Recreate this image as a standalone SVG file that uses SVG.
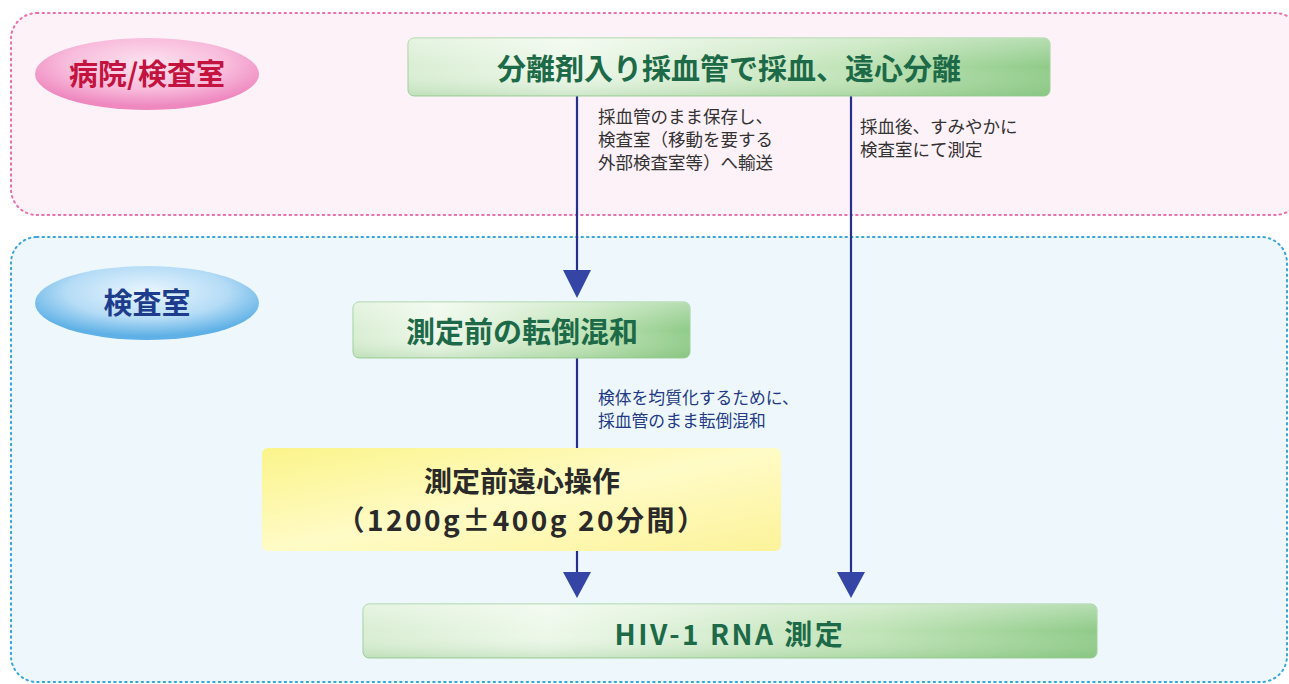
<svg xmlns="http://www.w3.org/2000/svg" width="1289" height="684" viewBox="0 0 1289 684">
<defs>
<style>
.zone-p{fill:#fdf2f8;stroke:#e870ac;stroke-width:2;stroke-dasharray:1.5 4;stroke-linecap:round}
.zone-b{fill:#eef8fc;stroke:#3aa6d8;stroke-width:2;stroke-dasharray:1.5 4;stroke-linecap:round}
.gbox{fill:url(#gGreen);stroke:#9fd09a;stroke-width:1}
.ybox{fill:url(#gYellow)}
.gtxt{font-family:"Noto Sans CJK JP","Noto Sans",sans-serif;font-weight:bold;fill:#1d6a48;text-anchor:middle}
.ytxt{font-family:"Noto Sans CJK JP","Noto Sans",sans-serif;font-weight:bold;fill:#2a2a2a;text-anchor:middle;font-size:28px}
.note{font-family:"Noto Sans CJK JP","Noto Sans",sans-serif;font-size:17.5px;fill:#333333}
.note2{font-family:"Noto Sans CJK JP","Noto Sans",sans-serif;font-size:16.8px;fill:#243a86}
.line{stroke:#26308a;stroke-width:2.2;fill:none}
.head{fill:#3445a6}
</style>
<linearGradient id="gGreen" x1="0" y1="0" x2="1" y2="0">
<stop offset="0" stop-color="#d9eed3"/>
<stop offset="0.25" stop-color="#eef8ea"/>
<stop offset="0.7" stop-color="#bfe3b6"/>
<stop offset="1" stop-color="#8fcb88"/>
</linearGradient>
<linearGradient id="gShade" x1="0" y1="0" x2="0" y2="1">
<stop offset="0" stop-color="#ffffff" stop-opacity="0.35"/>
<stop offset="0.5" stop-color="#ffffff" stop-opacity="0"/>
<stop offset="1" stop-color="#6fb36a" stop-opacity="0.25"/>
</linearGradient>
<linearGradient id="gYellow" x1="0" y1="0" x2="1" y2="1">
<stop offset="0" stop-color="#fbf48a"/>
<stop offset="0.5" stop-color="#fffbc6"/>
<stop offset="1" stop-color="#fcf39a"/>
</linearGradient>
<radialGradient id="gPink" cx="0.5" cy="0.35" r="0.6">
<stop offset="0" stop-color="#fde3f0"/>
<stop offset="0.6" stop-color="#f8bcdc"/>
<stop offset="1" stop-color="#ee88bf"/>
</radialGradient>
<radialGradient id="gBlue" cx="0.5" cy="0.35" r="0.6">
<stop offset="0" stop-color="#eaf6ff"/>
<stop offset="0.6" stop-color="#b5dcf6"/>
<stop offset="1" stop-color="#5eb0e6"/>
</radialGradient>
</defs>

<g id="zone-hospital">
<rect class="zone-p" x="11" y="13" width="1290" height="202" rx="26"/>
</g>
<g id="zone-lab">
<rect class="zone-b" x="11" y="237" width="1276" height="445" rx="26"/>
</g>

<g id="label-hospital">
<ellipse cx="147" cy="74" rx="112" ry="36" fill="url(#gPink)"/>
<text x="147" y="85" text-anchor="middle" font-family="Noto Sans CJK JP,sans-serif" font-weight="bold" font-size="29" fill="#c4133f">病院/検査室</text>
</g>
<g id="label-lab">
<ellipse cx="147" cy="303" rx="112" ry="37" fill="url(#gBlue)"/>
<text x="147" y="314" text-anchor="middle" font-family="Noto Sans CJK JP,sans-serif" font-weight="bold" font-size="29" fill="#1d3c8c">検査室</text>
</g>

<g id="connectors">
<line class="line" x1="577" y1="96" x2="577" y2="272"/>
<polygon class="head" points="563,270 591,270 577,298"/>
<line class="line" x1="851" y1="96" x2="851" y2="574"/>
<polygon class="head" points="837,572 865,572 851,598"/>
<line class="line" x1="577" y1="358" x2="577" y2="448"/>
<line class="line" x1="577" y1="551" x2="577" y2="574"/>
<polygon class="head" points="563,572 591,572 577,598"/>
</g>

<g id="note-transport">
<text class="note" x="598" y="123">採血管のまま保存し、</text>
<text class="note" x="598" y="146">検査室（移動を要する</text>
<text class="note" x="598" y="169">外部検査室等）へ輸送</text>
</g>
<g id="note-quick">
<text class="note" x="860" y="133">採血後、すみやかに</text>
<text class="note" x="860" y="156">検査室にて測定</text>
</g>
<g id="note-mix">
<text class="note2" x="598" y="404">検体を均質化するために、</text>
<text class="note2" x="598" y="427">採血管のまま転倒混和</text>
</g>

<g id="node-collect">
<rect class="gbox" x="408" y="38" width="642" height="58" rx="6"/>
<rect x="408" y="38" width="642" height="58" rx="6" fill="url(#gShade)"/>
<text class="gtxt" x="729" y="80" font-size="29">分離剤入り採血管で採血、遠心分離</text>
</g>
<g id="node-mix">
<rect class="gbox" x="353" y="302" width="337" height="56" rx="6"/>
<rect x="353" y="302" width="337" height="56" rx="6" fill="url(#gShade)"/>
<text class="gtxt" x="522" y="343" font-size="29">測定前の転倒混和</text>
</g>
<g id="node-centrifuge">
<rect class="ybox" x="262" y="448" width="519" height="103" rx="6"/>
<text class="ytxt" x="522" y="492">測定前遠心操作</text>
<text class="ytxt" x="522" y="531" letter-spacing="2.5">（1200g±400g 20分間）</text>
</g>
<g id="node-measure">
<rect class="gbox" x="363" y="604" width="734" height="54" rx="6"/>
<rect x="363" y="604" width="734" height="54" rx="6" fill="url(#gShade)"/>
<text class="gtxt" x="730" y="645" font-size="28" letter-spacing="2.5">HIV-1 RNA 測定</text>
</g>
</svg>
